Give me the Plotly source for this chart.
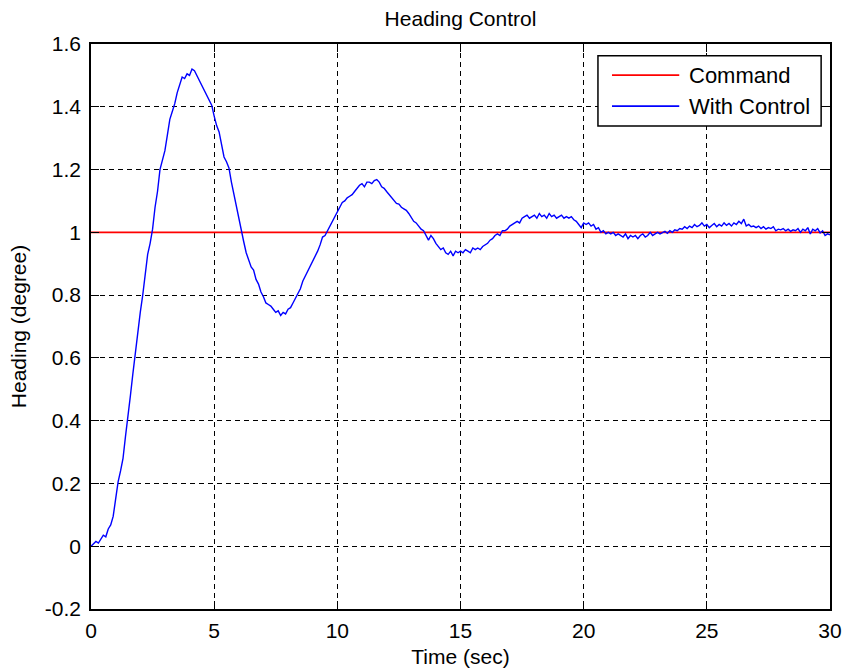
import plotly.graph_objects as go

# Heading response of the controlled system, sampled every 0.1 s over 30 s
dt = 0.1
heading = [
    # 0 - 0.9 s
    0.000, 0.006, 0.015, 0.010, 0.024, 0.035, 0.030, 0.055, 0.068, 0.095,
    # 1 - 1.9 s
    0.150, 0.205, 0.240, 0.280, 0.350, 0.410, 0.480, 0.550, 0.615, 0.690,
    # 2 - 2.9 s
    0.745, 0.800, 0.860, 0.930, 0.965, 1.010, 1.080, 1.130, 1.200, 1.235,
    # 3 - 3.9 s
    1.260, 1.310, 1.360, 1.385, 1.410, 1.445, 1.470, 1.495, 1.490, 1.505,
    # 4 - 4.9 s
    1.500, 1.520, 1.515, 1.500, 1.485, 1.470, 1.455, 1.440, 1.420, 1.405,
    # 5 - 5.9 s
    1.370, 1.340, 1.320, 1.280, 1.240, 1.225, 1.205, 1.160, 1.120, 1.085,
    # 6 - 6.9 s
    1.050, 1.000, 0.970, 0.935, 0.915, 0.890, 0.880, 0.850, 0.835, 0.810,
    # 7 - 7.9 s
    0.795, 0.775, 0.770, 0.765, 0.755, 0.745, 0.750, 0.735, 0.745, 0.740,
    # 8 - 8.9 s
    0.755, 0.760, 0.775, 0.790, 0.805, 0.820, 0.845, 0.860, 0.875, 0.890,
    # 9 - 9.9 s
    0.905, 0.925, 0.940, 0.960, 0.985, 0.990, 1.005, 1.015, 1.035, 1.050,
    # 10 - 10.9 s
    1.065, 1.080, 1.095, 1.100, 1.110, 1.115, 1.120, 1.130, 1.140, 1.150,
    # 11 - 11.9 s
    1.155, 1.145, 1.160, 1.160, 1.155, 1.165, 1.168, 1.160, 1.145, 1.140,
    # 12 - 12.9 s
    1.130, 1.120, 1.110, 1.100, 1.092, 1.090, 1.080, 1.075, 1.070, 1.060,
    # 13 - 13.9 s
    1.045, 1.035, 1.030, 1.020, 1.010, 1.005, 0.990, 0.975, 0.990, 0.980,
    # 14 - 14.9 s
    0.965, 0.955, 0.945, 0.950, 0.935, 0.930, 0.940, 0.925, 0.940, 0.935,
    # 15 - 15.9 s
    0.940, 0.935, 0.945, 0.940, 0.935, 0.950, 0.945, 0.950, 0.945, 0.955,
    # 16 - 16.9 s
    0.960, 0.965, 0.975, 0.980, 0.990, 0.995, 0.990, 1.005, 1.005, 1.010,
    # 17 - 17.9 s
    1.020, 1.025, 1.030, 1.035, 1.030, 1.045, 1.050, 1.055, 1.045, 1.050,
    # 18 - 18.9 s
    1.055, 1.045, 1.060, 1.050, 1.055, 1.045, 1.060, 1.050, 1.055, 1.045,
    # 19 - 19.9 s
    1.050, 1.055, 1.045, 1.050, 1.045, 1.050, 1.040, 1.035, 1.025, 1.015,
    # 20 - 20.9 s
    1.030, 1.025, 1.030, 1.020, 1.025, 1.010, 1.015, 1.000, 1.005, 0.995,
    # 21 - 21.9 s
    1.000, 0.995, 1.000, 0.990, 0.995, 0.990, 0.985, 0.995, 0.980, 0.990,
    # 22 - 22.9 s
    0.985, 0.990, 0.980, 0.990, 0.995, 0.985, 0.990, 1.000, 0.990, 0.995,
    # 23 - 23.9 s
    1.000, 0.995, 0.998, 1.003, 0.997, 1.005, 1.000, 1.008, 1.005, 1.012,
    # 24 - 24.9 s
    1.010, 1.018, 1.012, 1.020, 1.015, 1.025, 1.018, 1.022, 1.030, 1.020,
    # 25 - 25.9 s
    1.025, 1.015, 1.022, 1.028, 1.018, 1.025, 1.020, 1.030, 1.022, 1.028,
    # 26 - 26.9 s
    1.020, 1.030, 1.025, 1.035, 1.028, 1.042, 1.020, 1.025, 1.018, 1.020,
    # 27 - 27.9 s
    1.015, 1.020, 1.012, 1.018, 1.010, 1.015, 1.012, 1.018, 1.005, 1.010,
    # 28 - 28.9 s
    1.008, 1.012, 1.005, 1.010, 1.003, 1.008, 1.005, 1.012, 1.000, 1.010,
    # 29 - 29.9 s
    1.005, 1.015, 0.995, 1.010, 1.005, 1.012, 0.998, 1.005, 0.990, 0.995,
    # 30 s
    0.992,
]
time = [round(i * dt, 1) for i in range(len(heading))]

# Commanded heading (step to 1 degree)
command_time = [0, 30]
command = [1, 1]

x_ticks = [0, 5, 10, 15, 20, 25, 30]
y_ticks = [-0.2, 0, 0.2, 0.4, 0.6, 0.8, 1.0, 1.2, 1.4, 1.6]
y_tick_labels = ["-0.2", "0", "0.2", "0.4", "0.6", "0.8", "1", "1.2", "1.4", "1.6"]

series_names = ["Command", "With Control"]
series_colors = ["#FF0000", "#0000FF"]

FONT = "Liberation Sans, Arial, Helvetica, sans-serif"
TEXT_SIZE = 21

fig = go.Figure()
fig.add_trace(go.Scatter(x=command_time, y=command, mode="lines", name=series_names[0],
                         line=dict(color=series_colors[0], width=1.6), showlegend=False))
fig.add_trace(go.Scatter(x=time, y=heading, mode="lines", name=series_names[1],
                         line=dict(color=series_colors[1], width=1.4), showlegend=False))

axis_common = dict(
    showline=True, linecolor="black", linewidth=1.5, mirror="ticks",
    ticks="inside", ticklen=8, tickwidth=1.2, tickcolor="black",
    showgrid=True, gridcolor="black", gridwidth=1.2, griddash="5px,4px",
    zeroline=False, automargin=False,
    tickfont=dict(family=FONT, size=TEXT_SIZE, color="black"),
)

fig.update_xaxes(range=[0, 30], tickvals=x_ticks, ticklabelstandoff=2,
                 title=dict(text="Time (sec)", font=dict(family=FONT, size=TEXT_SIZE, color="black"), standoff=8),
                 **axis_common)
fig.update_yaxes(range=[-0.2, 1.6], tickvals=y_ticks, ticktext=y_tick_labels, ticklabelstandoff=4,
                 title=dict(text="Heading (degree)", font=dict(family=FONT, size=TEXT_SIZE, color="black"), standoff=13),
                 **axis_common)

# Legend box drawn in paper coordinates
legend_x0, legend_x1 = 0.686, 0.988
legend_y0, legend_y1 = 0.855, 0.979
row_y = [0.945, 0.890]
shapes = [dict(type="rect", xref="paper", yref="paper", x0=legend_x0, x1=legend_x1,
               y0=legend_y0, y1=legend_y1, line=dict(color="black", width=1.5),
               fillcolor="white", layer="above")]
annotations = []
for name, color, yy in zip(series_names, series_colors, row_y):
    shapes.append(dict(type="line", xref="paper", yref="paper", x0=0.705, x1=0.796,
                       y0=yy, y1=yy, line=dict(color=color, width=1.6), layer="above"))
    annotations.append(dict(text=name, xref="paper", yref="paper", x=0.806, y=yy,
                            xanchor="left", yanchor="middle", showarrow=False,
                            font=dict(family=FONT, size=22, color="black")))

fig.update_layout(
    width=843, height=668,
    margin=dict(l=91, r=13, t=44, b=59, autoexpand=False),
    paper_bgcolor="white", plot_bgcolor="white",
    title=dict(text="Heading Control", x=0.5, xref="paper", xanchor="center",
               y=1 - 19 / 668, yref="container", yanchor="middle",
               font=dict(family=FONT, size=TEXT_SIZE, color="black")),
    shapes=shapes, annotations=annotations,
    showlegend=False,
)

fig.write_html("out.html")
